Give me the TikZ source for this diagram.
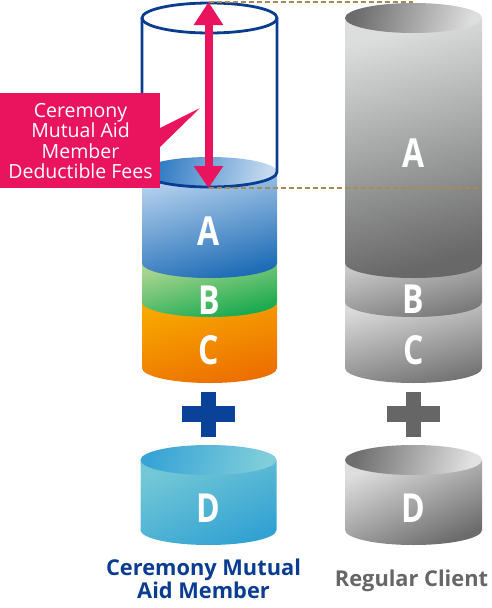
\documentclass[tikz,border=0pt]{standalone}
\usepackage{fontspec}
\setmainfont{Open Sans}
\newfontfamily\letterfont{Open Sans}[FakeStretch=0.8]
\usetikzlibrary{arrows.meta}
\definecolor{navy}{HTML}{0A3D91}
\definecolor{pinkc}{HTML}{E9145D}
\definecolor{dashc}{HTML}{A88B52}
\definecolor{plusblue}{HTML}{0A4199}
\definecolor{plusgray}{HTML}{666666}
\definecolor{txtgray}{HTML}{666666}
\newcommand{\cylband}[6]{%
  \shade[#1] ({#2-#5},{-#3}) -- ({#2-#5},{-#4}) arc (180:360:#5 and #6) -- ({#2+#5},{-#3}) -- cycle;}
\begin{document}
\begin{tikzpicture}[x=1pt,y=1pt,
  letter/.style={text=white,font=\letterfont\bfseries\fontsize{40}{40}\selectfont,inner sep=0pt},
  dashline/.style={dashc,line width=1.4pt,dash pattern=on 5pt off 3pt},
  plusbar/.style={draw=none}]
\useasboundingbox (0,0) rectangle (492,-608);
% ---------- left stack ----------
\cylband{top color={rgb,255:red,248;green,168;blue,0},bottom color={rgb,255:red,236;green,110;blue,0},shading angle=15}{209.5}{302}{368}{67.5}{15}
\cylband{top color={rgb,255:red,170;green,214;blue,144},bottom color={rgb,255:red,18;green,168;blue,76},shading angle=15}{209.5}{263}{302}{67.5}{15}
\cylband{top color={rgb,255:red,182;green,210;blue,238},bottom color={rgb,255:red,30;green,108;blue,182},shading angle=15}{209.5}{172}{263}{67.5}{15}
\shade[left color={rgb,255:red,40;green,118;blue,192},right color={rgb,255:red,196;green,218;blue,240},shading angle=75] (209.5,-172) ellipse (67.5 and 15);
% outline cylinder
\draw[navy,line width=2.8pt] (209.5,-18) ellipse (67.5 and 15);
\draw[navy,line width=2.8pt] (142,-18) -- (142,-172) arc (180:360:67.5 and 15) -- (277,-18);
% ---------- right stack ----------
\cylband{top color={rgb,255:red,218;green,218;blue,218},bottom color={rgb,255:red,115;green,115;blue,115},shading angle=15}{413.5}{302}{368}{68.5}{15}
\cylband{top color={rgb,255:red,200;green,200;blue,200},bottom color={rgb,255:red,118;green,118;blue,118},shading angle=15}{413.5}{263}{302}{68.5}{15}
\cylband{top color={rgb,255:red,220;green,222;blue,222},bottom color={rgb,255:red,104;green,104;blue,104},shading angle=15}{413.5}{18}{263}{68.5}{15}
\shade[left color={rgb,255:red,108;green,108;blue,108},right color={rgb,255:red,222;green,222;blue,222},shading angle=75] (413.5,-18) ellipse (68.5 and 15);
% ---------- D cylinders ----------
\cylband{top color={rgb,255:red,116;green,200;blue,214},bottom color={rgb,255:red,50;green,162;blue,211},shading angle=25}{208.5}{460}{530}{68}{15}
\shade[left color={rgb,255:red,56;green,164;blue,214},right color={rgb,255:red,128;green,206;blue,218},shading angle=75] (208.5,-460) ellipse (68 and 15);
\cylband{top color={rgb,255:red,222;green,222;blue,222},bottom color={rgb,255:red,108;green,108;blue,108},shading angle=25}{413.5}{460}{530}{68.5}{15}
\shade[left color={rgb,255:red,110;green,110;blue,110},right color={rgb,255:red,226;green,226;blue,226},shading angle=75] (413.5,-460) ellipse (68.5 and 15);
% ---------- letters ----------
\node[letter] (lA) at (209,-231) {A};
\node[letter] (lB) at (209,-300) {B};
\node[letter] (lC) at (209,-350) {C};
\node[letter] (lD) at (208.5,-508) {D};
\node[letter] (rA) at (413.5,-153) {A};
\node[letter] (rB) at (413.5,-299) {B};
\node[letter] (rC) at (413.5,-350) {C};
\node[letter] (rD) at (413.5,-508) {D};
% ---------- plus signs ----------
\fill[plusblue] (182,-406) rectangle (235,-422);
\fill[plusblue] (201,-392) rectangle (216,-437);
\fill[plusgray] (387,-406) rectangle (440,-422);
\fill[plusgray] (406,-392) rectangle (421,-437);
% ---------- dashed guide lines ----------
\coordinate (arrtop) at (208.5,-2);
\coordinate (arrbot) at (208.5,-188);
\coordinate (dtopend) at (413,-2);
\coordinate (dbotend) at (482,-188);
\draw[dashline] (arrtop) -- (dtopend);
\draw[dashline] (arrbot) -- (dbotend);
% ---------- pink arrow ----------
\draw[pinkc,line width=8pt,{Triangle[width=28pt,length=23pt]}-{Triangle[width=28pt,length=22pt]}] (arrtop) -- (arrbot);
% ---------- pink callout ----------
\fill[pinkc] (0,-93) rectangle (160,-188);
\fill[pinkc] (158,-129) -- (200,-108) -- (158,-149) -- cycle;
\node[text=white,align=center,font=\fontsize{19.5}{20.5}\selectfont,inner sep=0pt] (callout) at (80.5,-141) {Ceremony\\Mutual Aid\\Member\\Deductible Fees};
% ---------- bottom labels ----------
\node[text=navy,align=center,font=\bfseries\fontsize{21.8}{22.5}\selectfont,inner sep=0pt] (memberlbl) at (203.5,-579) {Ceremony Mutual\\Aid Member};
\node[text=txtgray,font=\bfseries\fontsize{21.8}{22}\selectfont,inner sep=0pt] (clientlbl) at (411.5,-581) {Regular Client};
\end{tikzpicture}
\end{document}
